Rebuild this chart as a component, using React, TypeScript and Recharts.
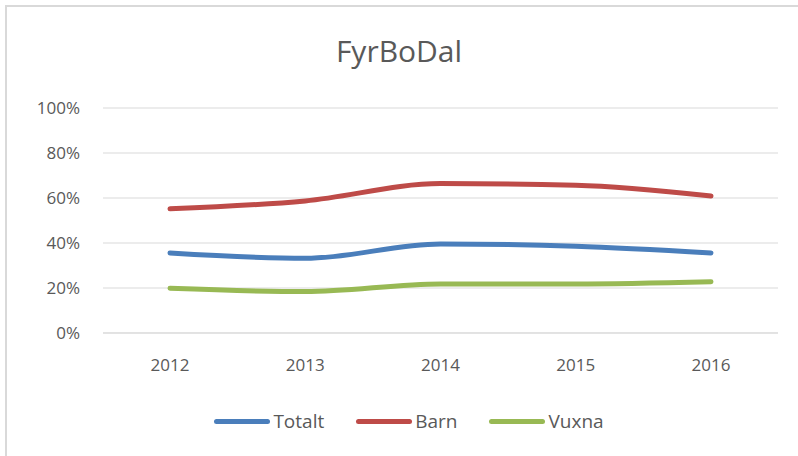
import { CartesianGrid, Line, LineChart, XAxis, YAxis } from "recharts";

const years = ["2012", "2013", "2014", "2015", "2016"];
const totalt = [35.6, 33.2, 39.6, 38.6, 35.6];
const barn = [55.2, 58.7, 66.4, 65.7, 60.9];
const vuxna = [19.9, 18.4, 21.8, 21.8, 22.8];
const yTicks = [0, 20, 40, 60, 80, 100];

const seriesList = [
  { key: "Totalt", color: "#4a7ebb" },
  { key: "Barn", color: "#be4b48" },
  { key: "Vuxna", color: "#98b954" },
];

const data = years.map((year, i) => ({
  year,
  Totalt: totalt[i],
  Barn: barn[i],
  Vuxna: vuxna[i],
}));

const font = "'Open Sans', sans-serif";

function ChartLegend() {
  return (
    <div style={{ display: "flex", justifyContent: "center", gap: 32, fontFamily: font, paddingLeft: 20 }}>
      {seriesList.map((s) => (
        <div key={s.key} style={{ display: "flex", alignItems: "center" }}>
          <span
            style={{
              display: "inline-block",
              width: 56,
              height: 5,
              borderRadius: 3,
              background: s.color,
              marginRight: 3,
            }}
          />
          <span style={{ fontSize: 19, color: "#595959" }}>{s.key}</span>
        </div>
      ))}
    </div>
  );
}

export default function App() {
  return (
    <div style={{ position: "absolute", left: 0, top: 0, width: 798, height: 456, background: "#fff", overflow: "hidden" }}>
      <div
        style={{
          position: "absolute",
          left: 5,
          top: 5,
          right: -10,
          bottom: -10,
          borderTop: "2px solid #d9d9d9",
          borderLeft: "2px solid #d9d9d9",
        }}
      />
      <div
        style={{
          position: "absolute",
          top: 30,
          width: 798,
          textAlign: "center",
          fontFamily: font,
          fontSize: 30,
          color: "#595959",
        }}
      >
        FyrBoDal
      </div>
      <div style={{ position: "absolute", left: 0, top: 0 }}>
        <LineChart width={798} height={456} data={data} margin={{ top: 108, right: 20, left: 0, bottom: 93 }}>
          <CartesianGrid vertical={false} stroke="#d9d9d9" />
          <XAxis
            dataKey="year"
            height={30}
            padding={{ left: 67, right: 67 }}
            axisLine={{ stroke: "#d9d9d9" }}
            tickLine={false}
            tickMargin={20}
            tick={{ fill: "#595959", fontSize: 17, fontFamily: font }}
          />
          <YAxis
            width={103}
            domain={[0, 100]}
            ticks={yTicks}
            tickFormatter={(v) => `${v}%`}
            axisLine={false}
            tickLine={false}
            tickMargin={17}
            tick={{ fill: "#595959", fontSize: 17, fontFamily: font }}
          />
          {seriesList.map((s) => (
            <Line
              key={s.key}
              type="monotone"
              dataKey={s.key}
              stroke={s.color}
              strokeWidth={5}
              strokeLinecap="round"
              dot={false}
              isAnimationActive={false}
            />
          ))}
        </LineChart>
      </div>
      <div style={{ position: "absolute", left: 0, top: 408, width: 798 }}>
        <ChartLegend />
      </div>
    </div>
  );
}
